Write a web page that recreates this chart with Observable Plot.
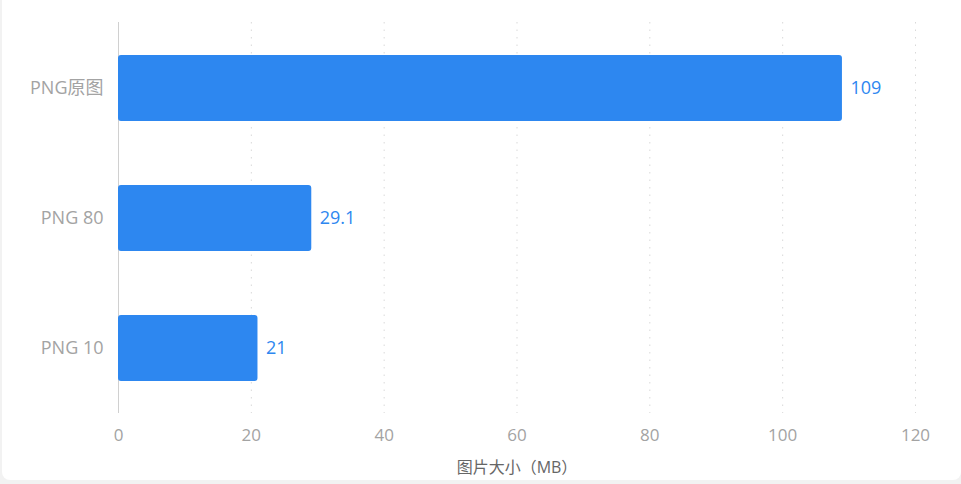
<!DOCTYPE html>
<html>
<head>
<meta charset="utf-8">
<script src="https://cdn.jsdelivr.net/npm/d3@7"></script>
<script src="https://cdn.jsdelivr.net/npm/@observablehq/plot@0.6"></script>
<style>
  html, body { margin: 0; padding: 0; background: #f2f2f2; }
  #card { position: absolute; left: 2px; top: 0; width: 959px; height: 480px; background: #fff; border-radius: 0 0 8px 8px; overflow: hidden; }
  #chart { position: absolute; left: -2px; top: 0; }
  svg { font-family: "Open Sans", "Noto Sans CJK SC", sans-serif; }
</style>
</head>
<body>
<div id="card"><div id="chart"></div></div>
<script>
const categories = ["PNG原图", "PNG 80", "PNG 10"];
const sizes = [109, 29.1, 21];
const xTicks = [0, 20, 40, 60, 80, 100, 120];
const xTitle = "图片大小（MB）";

const data = categories.map((c, i) => ({ name: c, size: sizes[i] }));
const font = "'Open Sans', 'Noto Sans CJK SC', sans-serif";

const chart = Plot.plot({
  width: 961,
  height: 480,
  marginLeft: 118,
  marginRight: 46,
  marginTop: 22,
  marginBottom: 67,
  style: { fontSize: "16px", fontFamily: font, background: "transparent" },
  x: { domain: [0, 120], ticks: xTicks },
  y: { domain: categories, paddingInner: 0.494, paddingOuter: 0.245 },
  marks: [
    Plot.ruleX(xTicks.filter(d => d > 0), { stroke: "#d9d9d9", strokeDasharray: "1.5,6", strokeWidth: 1 }),
    Plot.ruleX([0], { stroke: "#d0d0d0", strokeWidth: 1 }),
    Plot.barX(data, { x: "size", y: "name", fill: "#2d87f0", rx: 3 }),
    Plot.text(data, { x: "size", y: "name", text: d => String(d.size), textAnchor: "start", dx: 8, fill: "#2d87f0", fontSize: 18 }),
    Plot.axisX({ ticks: xTicks, tickSize: 0, tickPadding: 15, color: "#a3a3a3", fontSize: 17, label: null }),
    Plot.axisY({ tickSize: 0, tickPadding: 15, color: "#a3a3a3", fontSize: 18, label: null }),
    Plot.text([xTitle], { frameAnchor: "bottom", dy: 59, fill: "#666", fontSize: 16 })
  ]
});
document.getElementById("chart").appendChild(chart);
</script>
</body>
</html>
